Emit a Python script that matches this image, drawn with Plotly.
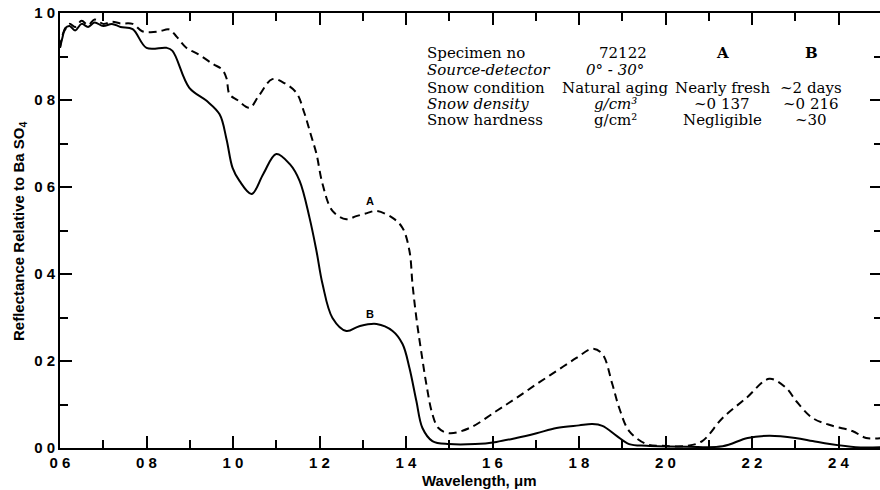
import plotly.graph_objects as go

# ---------------- data ----------------
wl_A = [0.600, 0.606, 0.612, 0.622, 0.635, 0.650, 0.665, 0.680, 0.700, 0.720, 0.740, 0.768,
        0.790, 0.810, 0.830, 0.853, 0.870, 0.892, 0.920, 0.953, 0.975, 0.985, 0.992, 1.010,
        1.038, 1.060, 1.091, 1.120, 1.147, 1.165, 1.180, 1.193, 1.207, 1.230, 1.262, 1.285,
        1.310, 1.332, 1.369, 1.392, 1.408, 1.415, 1.424, 1.435, 1.447, 1.461, 1.475, 1.500,
        1.547, 1.609, 1.655, 1.702, 1.748, 1.794, 1.831, 1.854, 1.877, 1.893, 1.916, 1.956,
        1.993, 2.050, 2.085, 2.132, 2.187, 2.240, 2.279, 2.302, 2.340, 2.386, 2.432, 2.464, 2.500]
refl_A = [0.920, 0.950, 0.962, 0.975, 0.968, 0.982, 0.972, 0.985, 0.975, 0.980, 0.976, 0.975,
          0.958, 0.956, 0.958, 0.962, 0.945, 0.920, 0.905, 0.883, 0.870, 0.850, 0.813, 0.800,
          0.782, 0.810, 0.848, 0.838, 0.816, 0.770, 0.720, 0.676, 0.607, 0.545, 0.526, 0.533,
          0.540, 0.545, 0.529, 0.506, 0.453, 0.377, 0.299, 0.223, 0.147, 0.078, 0.046, 0.034,
          0.046, 0.085, 0.115, 0.147, 0.177, 0.207, 0.228, 0.216, 0.147, 0.092, 0.039, 0.009,
          0.005, 0.005, 0.016, 0.069, 0.115, 0.159, 0.138, 0.108, 0.069, 0.051, 0.039, 0.023, 0.023]

wl_B = [0.600, 0.606, 0.612, 0.622, 0.635, 0.650, 0.665, 0.680, 0.700, 0.720, 0.740, 0.768,
        0.800, 0.846, 0.860, 0.899, 0.939, 0.969, 0.985, 0.999, 1.015, 1.043, 1.070, 1.100,
        1.131, 1.154, 1.177, 1.193, 1.207, 1.230, 1.262, 1.292, 1.332, 1.369, 1.392, 1.408,
        1.424, 1.438, 1.461, 1.500, 1.560, 1.609, 1.655, 1.702, 1.748, 1.800, 1.831, 1.854,
        1.887, 1.916, 1.956, 2.050, 2.132, 2.190, 2.240, 2.300, 2.340, 2.380, 2.440, 2.500]
refl_B = [0.920, 0.945, 0.965, 0.970, 0.960, 0.975, 0.968, 0.978, 0.970, 0.975, 0.968, 0.963,
          0.920, 0.920, 0.913, 0.828, 0.798, 0.767, 0.710, 0.644, 0.614, 0.584, 0.630, 0.676,
          0.653, 0.614, 0.529, 0.453, 0.377, 0.299, 0.269, 0.280, 0.285, 0.269, 0.239, 0.184,
          0.108, 0.046, 0.016, 0.009, 0.009, 0.014, 0.023, 0.034, 0.046, 0.052, 0.055, 0.051,
          0.028, 0.009, 0.005, 0.003, 0.004, 0.023, 0.028, 0.023, 0.016, 0.009, 0.002, 0.002]

x_tick_vals = [0.6, 0.8, 1.0, 1.2, 1.4, 1.6, 1.8, 2.0, 2.2, 2.4]
x_tick_text = ["0 6", "0 8", "1 0", "1 2", "1 4", "1 6", "1 8", "2 0", "2 2", "2 4"]
y_tick_vals = [0.0, 0.2, 0.4, 0.6, 0.8, 1.0]
y_tick_text = ["0 0", "0 2", "0 4", "0 6", "0 8", "1 0"]

table_labels = ["Specimen no", "<i>Source-detector</i>", "Snow condition",
                "<i>Snow density</i>", "Snow hardness"]
table_col2 = ["72122", "<i>0° - 30°</i>", "Natural aging", "<i>g/cm³</i>", "g/cm²"]
table_col3 = ["<b>A</b>", "", "Nearly fresh", "~0 137", "Negligible"]
table_col4 = ["<b>B</b>", "", "~2 days", "~0 216", "~30"]

# ---------------- layout geometry ----------------
# figure is 2 px wider than the window so the right frame line falls just outside
W, H = 882, 490
ML, MR, MT, MB = 60, 0, 13, 42
PW, PH = W - ML - MR, H - MT - MB
X0 = 0.6
X1 = X0 + PW / 432.5


def px(x):
    return (x - ML) / PW


def py(y):
    return (H - MB - y) / PH


fig = go.Figure()
fig.add_trace(go.Scatter(x=wl_A, y=refl_A, mode="lines", name="A",
                         line=dict(color="black", width=2, dash="8px,5px"),
                         line_shape="spline", hoverinfo="skip"))
fig.add_trace(go.Scatter(x=wl_B, y=refl_B, mode="lines", name="B",
                         line=dict(color="black", width=2),
                         line_shape="spline", hoverinfo="skip"))

tickfont = dict(family="Liberation Sans", size=15, color="black", weight="bold")
axis_common = dict(showgrid=False, zeroline=False, showline=True, linecolor="black",
                   linewidth=2, mirror="ticks", ticks="inside", tickcolor="black",
                   tickwidth=2, ticklen=12, tickfont=tickfont, automargin=False)

fig.update_xaxes(range=[X0, X1], tickvals=x_tick_vals, ticktext=x_tick_text,
                 minor=dict(dtick=0.1, tick0=0.6, ticks="inside", ticklen=8,
                            tickwidth=1.5, tickcolor="black"),
                 **axis_common)
fig.update_yaxes(range=[0, 1.0], tickvals=y_tick_vals, ticktext=y_tick_text,
                 minor=dict(dtick=0.1, tick0=0, ticks="inside", ticklen=8,
                            tickwidth=1.5, tickcolor="black"),
                 **axis_common)

annotations = []
# axis titles
annotations.append(dict(x=px(479), y=py(480), xref="paper", yref="paper",
                        xanchor="center", yanchor="middle",
                        text="Wavelength, μm", showarrow=False,
                        font=dict(family="Liberation Sans", size=15, color="black", weight="bold")))
annotations.append(dict(x=px(19), y=py(232), xref="paper", yref="paper",
                        xanchor="center", yanchor="middle",
                        text="Reflectance Relative to Ba SO<sub>4</sub>", textangle=-90,
                        showarrow=False,
                        font=dict(family="Liberation Sans", size=15, color="black", weight="bold")))
# curve labels
annotations.append(dict(x=1.316, y=0.568, xref="x", yref="y", text="A", showarrow=False,
                        font=dict(family="Liberation Sans", size=11, color="black", weight="bold")))
annotations.append(dict(x=1.316, y=0.308, xref="x", yref="y", text="B", showarrow=False,
                        font=dict(family="Liberation Sans", size=11, color="black", weight="bold")))

# table
row_y = [53.5, 70, 87.5, 104, 120]
tfont = dict(family="DejaVu Serif", size=15, color="black")
col2_x = [623, 615, 615, 615, 615]
for i in range(5):
    annotations.append(dict(x=px(426), y=py(row_y[i]), xref="paper", yref="paper",
                            text=table_labels[i], showarrow=False, xanchor="left",
                            yanchor="middle", font=tfont, borderpad=0))
    annotations.append(dict(x=px(col2_x[i]), y=py(row_y[i]), xref="paper", yref="paper",
                            text=table_col2[i], showarrow=False, xanchor="center",
                            yanchor="middle", font=tfont, borderpad=0))
    if table_col3[i]:
        annotations.append(dict(x=px(722), y=py(row_y[i]), xref="paper", yref="paper",
                                text=table_col3[i], showarrow=False, xanchor="center",
                                yanchor="middle", font=tfont, borderpad=0))
    if table_col4[i]:
        annotations.append(dict(x=px(811), y=py(row_y[i]), xref="paper", yref="paper",
                                text=table_col4[i], showarrow=False, xanchor="center",
                                yanchor="middle", font=tfont, borderpad=0))

fig.update_layout(width=W, height=H, margin=dict(l=ML, r=MR, t=MT, b=MB),
                  paper_bgcolor="white", plot_bgcolor="white", showlegend=False,
                  annotations=annotations)

fig.write_html("out.html", config={"displayModeBar": False},
               post_script="document.body.style.margin='0';document.body.style.overflow='hidden';")
